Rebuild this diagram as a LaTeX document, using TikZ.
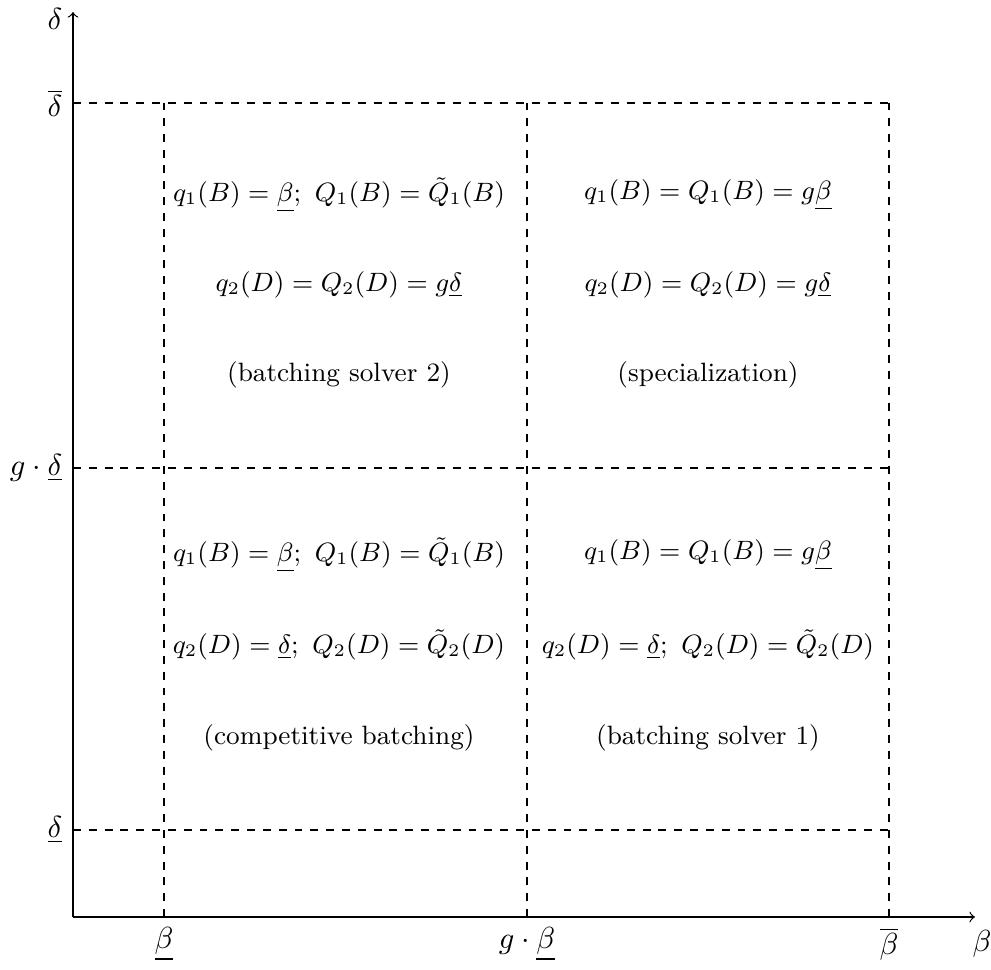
\documentclass[tikz,border=0pt]{standalone}
\usepackage{amsmath}
\usepackage{graphicx}
\newcommand{\celltx}[1]{\scalebox{0.968}{#1}}
\begin{document}
\begin{tikzpicture}[x=0.01155cm,y=-0.01155cm,
  dashline/.style={dash pattern=on 2.6pt off 2.6pt},
  axisline/.style={->},
  celltext/.style={font=\small, inner sep=1pt},
  ticklab/.style={inner sep=1pt}]
\useasboundingbox (0,0) rectangle (991,970);
% coordinates
\coordinate (O) at (73,917);
\coordinate (Ytop) at (73,12);
\coordinate (Xend) at (975,917);
\coordinate (b1) at (164,917);
\coordinate (b2) at (527,917);
\coordinate (b3) at (889,917);
\coordinate (b1t) at (164,103);
\coordinate (b2t) at (527,103);
\coordinate (b3t) at (889,103);
\coordinate (d1) at (73,830);
\coordinate (d2) at (73,468);
\coordinate (d3) at (73,103);
\coordinate (d1r) at (889,830);
\coordinate (d2r) at (889,468);
% dashed grid
\draw[dashline] (b1) -- (b1t);
\draw[dashline] (b2) -- (b2t);
\draw[dashline] (b3) -- (b3t);
\draw[dashline] (d1) -- (d1r);
\draw[dashline] (d2) -- (d2r);
\draw[dashline] (d3) -- (b3t);
% axes
\draw[axisline] (O) -- (Ytop);
\draw[axisline] (O) -- (Xend);
\node[ticklab] (ylab) at (55,19) {$\delta$};
\node[ticklab] (xlab) at (982,944) {$\beta$};
\node[anchor=east] (dbar) at (d3) {$\overline{\delta}$};
\node[anchor=east] (gd) at (d2) {$g\cdot\underline{\delta}$};
\node[anchor=east] (dund) at (d1) {$\underline{\delta}$};
\node[anchor=north] (bund) at (b1) {$\underline{\beta}$};
\node[anchor=north] (gb) at (b2) {$g\cdot\underline{\beta}$};
\node[anchor=north] (bbar) at (b3) {$\overline{\beta}$};
% cell texts
\node[celltext] (t11) at (339,195) {\celltx{$q_1(B)=\underline{\beta};\ Q_1(B)=\tilde{Q}_1(B)$}};
\node[celltext] (t12) at (339,285) {\celltx{$q_2(D)=Q_2(D)=g\underline{\delta}$}};
\node[celltext] (t13) at (339,375) {\celltx{(batching solver 2)}};
\node[celltext] (t21) at (708,195) {\celltx{$q_1(B)=Q_1(B)=g\underline{\beta}$}};
\node[celltext] (t22) at (708,285) {\celltx{$q_2(D)=Q_2(D)=g\underline{\delta}$}};
\node[celltext] (t23) at (708,375) {\celltx{(specialization)}};
\node[celltext] (t31) at (339,555) {\celltx{$q_1(B)=\underline{\beta};\ Q_1(B)=\tilde{Q}_1(B)$}};
\node[celltext] (t32) at (339,645) {\celltx{$q_2(D)=\underline{\delta};\ Q_2(D)=\tilde{Q}_2(D)$}};
\node[celltext] (t33) at (339,738) {\celltx{(competitive batching)}};
\node[celltext] (t41) at (708,555) {\celltx{$q_1(B)=Q_1(B)=g\underline{\beta}$}};
\node[celltext] (t42) at (708,645) {\celltx{$q_2(D)=\underline{\delta};\ Q_2(D)=\tilde{Q}_2(D)$}};
\node[celltext] (t43) at (708,738) {\celltx{(batching solver 1)}};
\end{tikzpicture}
\end{document}
